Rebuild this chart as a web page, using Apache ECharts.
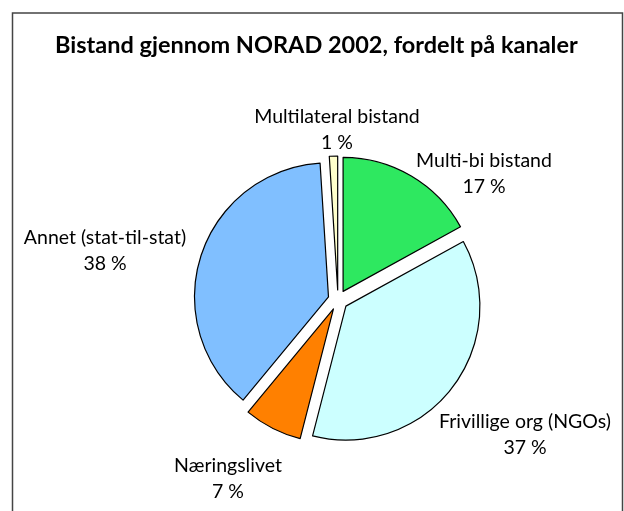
<!DOCTYPE html>
<html>
<head>
<meta charset="utf-8">
<script src="https://cdn.jsdelivr.net/npm/echarts@6/dist/echarts.min.js"></script>
<style>
    html, body {margin: 0; padding: 0; background: #fff;}
    #chart {width: 624px; height: 511px;}
</style>
</head>
<body>
<div id="chart"></div>
<script>
// data, clockwise from 12 o'clock
var channels = ['Multi-bi bistand', 'Frivillige org (NGOs)', 'Næringslivet', 'Annet (stat-til-stat)', 'Multilateral bistand'];
var shares = [17, 37, 7, 38, 1];
var colors = ['#2ee860', '#ccffff', '#ff8000', '#80bfff', '#ffffcc'];

// where each label sits (middle of the two text lines)
var labelPos = [[484, 174], [525, 435], [228, 479], [105, 251], [337, 130]];

var chart = echarts.init(document.getElementById('chart'));

// slice labels as free text, the pie's own outside labels won't sit where excel put them
var labels = channels.map(function (name, i) {
    return {
        type: 'text',
        x: labelPos[i][0],
        y: labelPos[i][1],
        silent: true,
        style: {
            text: name + '\n' + shares[i] + ' %',
            align: 'center',
            verticalAlign: 'middle',
            fontFamily: 'Lato',
            fontSize: 19.5,
            lineHeight: 26,
            fill: '#000'
        }
    };
});

var option = {
    animation: false,
    title: {
        text: 'Bistand gjennom NORAD 2002, fordelt på kanaler',
        left: 50,
        top: 28,
        textStyle: {
            fontFamily: 'Lato',
            fontSize: 23.5,
            fontWeight: 'bold',
            color: '#000'
        }
    },
    graphic: [{
        type: 'rect',
        shape: {x: 12.5, y: 13, width: 610, height: 520},
        style: {fill: null, stroke: '#444', lineWidth: 1.5},
        silent: true
    }].concat(labels),
    series: [{
        type: 'pie',
        center: [338, 300],
        radius: 134,
        startAngle: 90,
        clockwise: true,
        selectedMode: 'multiple',
        selectedOffset: 10,
        itemStyle: {borderColor: '#000', borderWidth: 1.2},
        emphasis: {disabled: true},
        label: {show: false},
        labelLine: {show: false},
        data: channels.map(function (name, i) {
            return {name: name, value: shares[i], selected: true, itemStyle: {color: colors[i]}};
        })
    }]
};

chart.setOption(option);
</script>
</body>
</html>
